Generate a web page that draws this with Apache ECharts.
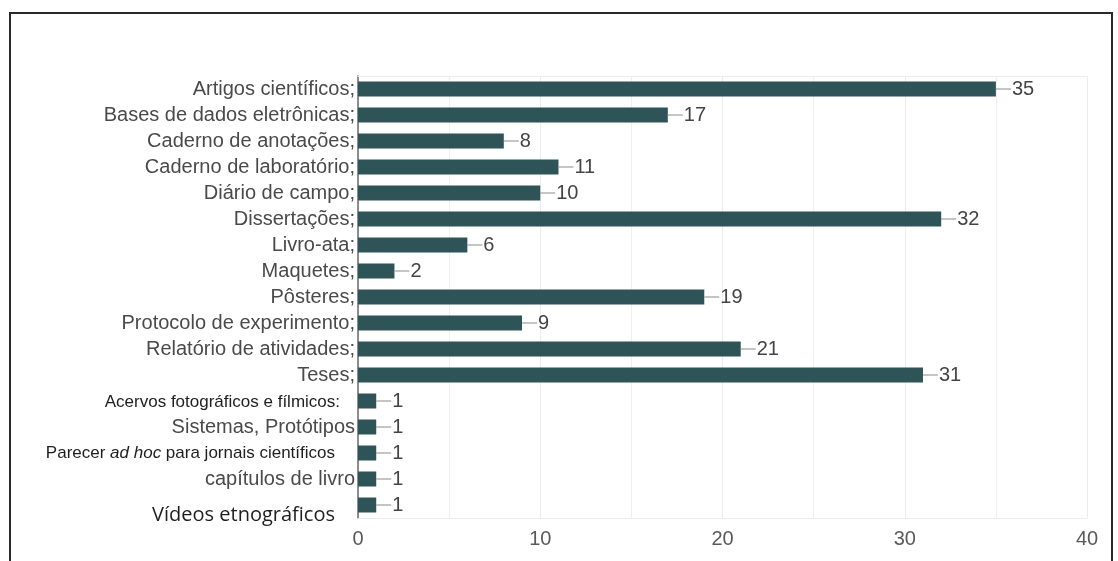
<!DOCTYPE html>
<html>
<head>
<meta charset="utf-8">
<script src="https://cdn.jsdelivr.net/npm/echarts@6/dist/echarts.min.js"></script>
<style>
  html, body { margin: 0; padding: 0; background: #fff; }
  #chart { width: 1118px; height: 561px; }
</style>
</head>
<body>
<div id="chart"></div>
<script>
// Document types and how many respondents cited each one
const categories = [
  'Artigos científicos;',
  'Bases de dados eletrônicas;',
  'Caderno de anotações;',
  'Caderno de laboratório;',
  'Diário de campo;',
  'Dissertações;',
  'Livro-ata;',
  'Maquetes;',
  'Pôsteres;',
  'Protocolo de experimento;',
  'Relatório de atividades;',
  'Teses;',
  'Acervos fotográficos e fílmicos:',
  'Sistemas, Protótipos',
  'Parecer ad hoc para jornais científicos',
  'capítulos de livro',
  'Vídeos etnográficos'
];
const counts = [35, 17, 8, 11, 10, 32, 6, 2, 19, 9, 21, 31, 1, 1, 1, 1, 1];
const xTicks = [0, 10, 20, 30, 40];

// Category names that are typeset in a different style
const smallDark = ['Acervos fotográficos e fílmicos:'];
const italicPart = { 'Parecer ad hoc para jornais científicos': ['Parecer ', 'ad hoc', ' para jornais científicos'] };
const largeDark = ['Vídeos etnográficos'];

const chart = echarts.init(document.getElementById('chart'));

chart.setOption({
  animation: false,
  backgroundColor: '#ffffff',
  graphic: [{
    type: 'rect',
    shape: { x: 10, y: 13, width: 1102, height: 620 },
    style: { fill: 'none', stroke: '#2a2a2a', lineWidth: 2 },
    silent: true
  }],
  grid: { left: 358, right: 31, top: 76, height: 442, containLabel: false },
  xAxis: [{
    type: 'value',
    min: xTicks[0],
    max: xTicks[xTicks.length - 1],
    interval: 10,
    axisLine: { show: true, lineStyle: { color: '#ececec', width: 1 } },
    axisTick: { show: false },
    axisLabel: {
      color: '#5a5a5a', fontSize: 20, fontFamily: 'Liberation Sans', margin: 11,
      customValues: xTicks
    },
    splitLine: { show: true, lineStyle: { color: '#ececec', width: 1 } },
    minorTick: { show: false, splitNumber: 2 },
    minorSplitLine: { show: true, lineStyle: { color: '#f0f0f0', width: 1 } }
  }, {
    type: 'value',
    position: 'top',
    min: xTicks[0],
    max: xTicks[xTicks.length - 1],
    interval: 10,
    axisLine: { show: true, lineStyle: { color: '#ececec', width: 1 } },
    axisTick: { show: false },
    axisLabel: { show: false },
    splitLine: { show: false }
  }],
  yAxis: {
    type: 'category',
    inverse: true,
    data: categories,
    axisLine: { show: true, lineStyle: { color: '#6a6a6a', width: 1.5 } },
    axisTick: { show: false },
    axisLabel: {
      margin: 3,
      formatter: function (v) {
        if (smallDark.indexOf(v) >= 0) return '{s|' + v + '}';
        if (italicPart[v]) {
          const p = italicPart[v];
          return '{p|' + p[0] + '}{pi|' + p[1] + '}{pe|' + p[2] + '}';
        }
        if (largeDark.indexOf(v) >= 0) return '{l|' + v + '}';
        return '{n|' + v + '}';
      },
      rich: {
        n: { color: '#4a4a4a', fontSize: 20, fontFamily: 'Liberation Sans' },
        s: { color: '#1e1e1e', fontSize: 17, fontFamily: 'Liberation Sans', padding: [2, 15, 0, 0] },
        p: { color: '#1e1e1e', fontSize: 17, fontFamily: 'Liberation Sans' },
        pi: { color: '#1e1e1e', fontSize: 17, fontFamily: 'Liberation Sans', fontStyle: 'italic' },
        pe: { color: '#1e1e1e', fontSize: 17, fontFamily: 'Liberation Sans', padding: [0, 20, 0, 0] },
        l: { color: '#1e1e1e', fontSize: 20, fontFamily: 'Open Sans', padding: [20, 20, 0, 0] }
      }
    },
    splitLine: { show: false }
  },
  series: [{
    type: 'bar',
    data: counts,
    barWidth: 15,
    itemStyle: { color: '#2e5458' },
    label: {
      show: true,
      position: 'right',
      distance: 0,
      formatter: '{ln| }{v|{c}}',
      rich: {
        ln: { width: 15, height: 1, backgroundColor: '#8a8a8a' },
        v: { color: '#444444', fontSize: 20, fontFamily: 'Liberation Sans', padding: [0, 0, 0, 1] }
      }
    }
  }]
});
</script>
</body>
</html>
